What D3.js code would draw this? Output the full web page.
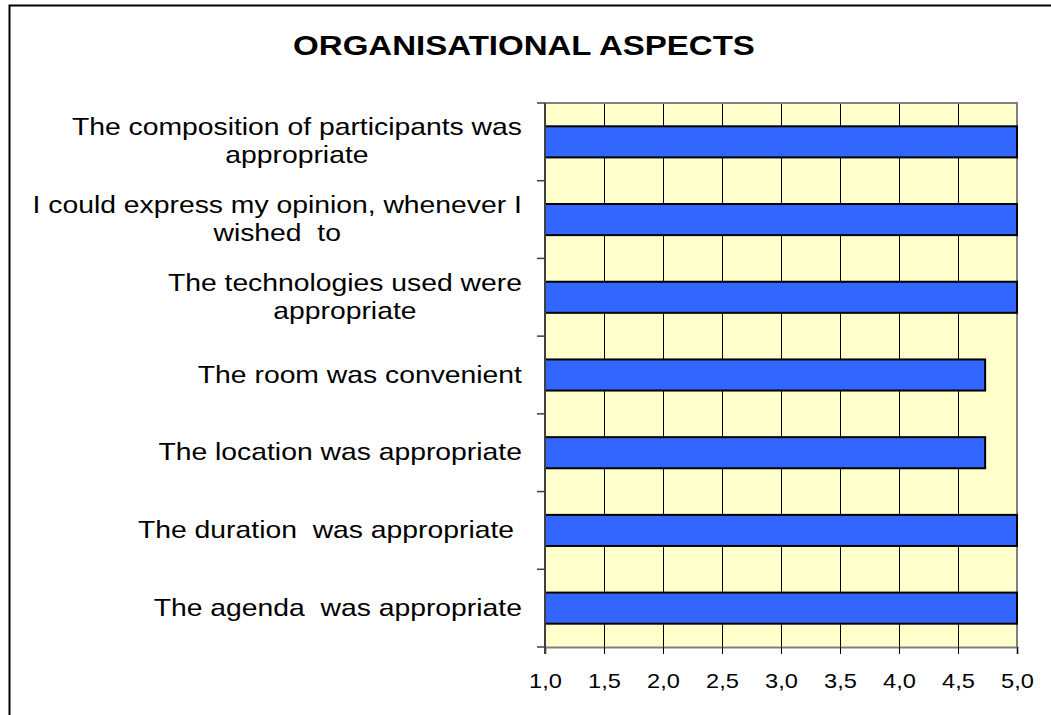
<!DOCTYPE html>
<html>
<head>
<meta charset="utf-8">
<script src="https://cdn.jsdelivr.net/npm/d3@7"></script>
<style>
    html, body { margin: 0; padding: 0; background: #ffffff; }
    svg { display: block; }
    text { font-family: "Liberation Sans", Arial, sans-serif; fill: #000000; }
</style>
</head>
<body>
<div id="chart"></div>
<script>
// chart data, top row first
const categories = [
    ["The composition of participants was", "appropriate"],
    ["I could express my opinion, whenever I", "wished  to"],
    ["The technologies used were", "appropriate"],
    ["The room was convenient"],
    ["The location was appropriate"],
    ["The duration  was appropriate "],
    ["The agenda  was appropriate"]
];
const values = [5.0, 5.0, 5.0, 4.73, 4.73, 5.0, 5.0];
const xTicks = [1.0, 1.5, 2.0, 2.5, 3.0, 3.5, 4.0, 4.5, 5.0];
const chartTitle = "ORGANISATIONAL ASPECTS";

const width = 1051, height = 715;
const plot = { left: 545, right: 1017, top: 103, bottom: 647 };
const stretch = 1.18; // text in the picture is a bit wider than tall

const svg = d3.select("#chart")
    .append("svg")
    .attr("width", width)
    .attr("height", height);

// outer frame (runs off the picture on right and bottom)
svg.append("rect")
    .attr("x", 9.5)
    .attr("y", 5.5)
    .attr("width", 1200)
    .attr("height", 900)
    .attr("fill", "none")
    .attr("stroke", "#000000")
    .attr("stroke-width", 2);

// title
svg.append("text")
    .attr("transform", `translate(524,55) scale(${stretch},1)`)
    .attr("text-anchor", "middle")
    .attr("font-size", 28)
    .attr("font-weight", "bold")
    .text(chartTitle);

const x = d3.scaleLinear()
    .domain([1, 5])
    .range([plot.left, plot.right]);

const y = d3.scaleBand()
    .domain(d3.range(categories.length))
    .range([plot.top, plot.bottom])
    .paddingInner(0.6)
    .paddingOuter(0.3);

const step = y.step();

// plot background
svg.append("rect")
    .attr("x", plot.left)
    .attr("y", plot.top)
    .attr("width", plot.right - plot.left)
    .attr("height", plot.bottom - plot.top)
    .attr("fill", "#FFFFCC");

// vertical grid lines
svg.append("g")
    .selectAll("line")
    .data(xTicks.slice(1, -1))
    .join("line")
    .attr("x1", d => Math.round(x(d)) + 0.5)
    .attr("x2", d => Math.round(x(d)) + 0.5)
    .attr("y1", plot.top)
    .attr("y2", plot.bottom)
    .attr("stroke", "#000000")
    .attr("stroke-width", 1);

// plot border top / right
svg.append("path")
    .attr("d", `M${plot.left},${plot.top}H${plot.right}V${plot.bottom}`)
    .attr("fill", "none")
    .attr("stroke", "#808080")
    .attr("stroke-width", 2);

// bars
svg.append("g")
    .selectAll("rect")
    .data(values)
    .join("rect")
    .attr("x", x(1))
    .attr("y", (d, i) => y(i))
    .attr("width", d => x(d) - x(1))
    .attr("height", y.bandwidth())
    .attr("fill", "#3366FF")
    .attr("stroke", "#000000")
    .attr("stroke-width", 2);

// bottom axis, decimal comma
const comma = d3.formatLocale({ decimal: ",", thousands: ".", grouping: [3], currency: ["", ""] });
const xAxis = svg.append("g")
    .attr("transform", `translate(0,${plot.bottom})`)
    .call(d3.axisBottom(x)
        .tickValues(xTicks)
        .tickSize(7)
        .tickPadding(20)
        .tickFormat(comma.format(".1f")));
xAxis.select(".domain").attr("stroke", "#808080").attr("stroke-width", 2);
xAxis.selectAll(".tick line").attr("stroke", "#000000");
xAxis.selectAll(".tick text")
    .attr("font-size", 20)
    .attr("font-family", "Liberation Sans, Arial, sans-serif")
    .attr("fill", "#000000")
    .attr("transform", `scale(${stretch},1)`);

// left axis: category boundaries
const boundaries = d3.range(categories.length + 1).map(i => plot.top + i * step);
svg.append("g")
    .selectAll("line")
    .data(boundaries)
    .join("line")
    .attr("x1", plot.left - 8)
    .attr("x2", plot.left)
    .attr("y1", d => d)
    .attr("y2", d => d)
    .attr("stroke", "#404040")
    .attr("stroke-width", 1.5);

svg.append("line")
    .attr("x1", plot.left)
    .attr("x2", plot.left)
    .attr("y1", plot.top)
    .attr("y2", plot.bottom + 7)
    .attr("stroke", "#404040")
    .attr("stroke-width", 2);

// category labels, centred block with right edge near the axis
const labelSize = 24, lineGap = 28, labelRight = 522;
categories.forEach((lines, i) => {
    const cy = y(i) + y.bandwidth() / 2;
    const g = svg.append("g");
    const t = g.append("text")
        .attr("text-anchor", "middle")
        .attr("font-size", labelSize)
        .attr("xml:space", "preserve")
        .style("white-space", "pre");
    lines.forEach((line, j) => {
        t.append("tspan")
            .attr("x", 0)
            .attr("y", (j - (lines.length - 1) / 2) * lineGap + 7.5)
            .text(line);
    });
    let w = 0;
    t.selectAll("tspan").each(function () {
        w = Math.max(w, this.getComputedTextLength());
    });
    g.attr("transform", `translate(${labelRight - w * stretch / 2},${cy}) scale(${stretch},1)`);
});
</script>
</body>
</html>
